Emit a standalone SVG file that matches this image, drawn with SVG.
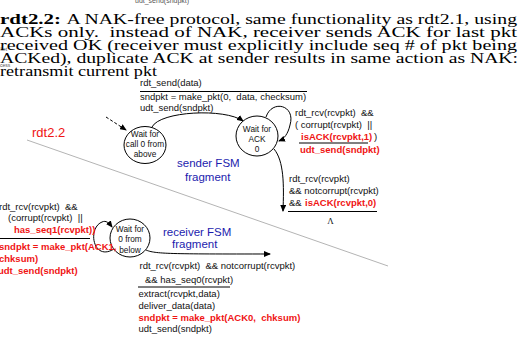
<svg xmlns="http://www.w3.org/2000/svg" width="523" height="339" viewBox="0 0 523 339" xml:space="preserve">
<style>
text{white-space:pre}
.t{font-family:"Liberation Serif","Times New Roman",serif;font-size:15px;fill:#000}
.s{font-family:"Liberation Sans",Arial,sans-serif;font-size:9.5px;fill:#111}
.r{font-family:"Liberation Sans",Arial,sans-serif;font-size:9.5px;fill:#f01414;font-weight:bold}
.n{font-family:"Liberation Sans",Arial,sans-serif;font-size:8.3px;fill:#111;text-anchor:middle}
.b{font-family:"Liberation Sans",Arial,sans-serif;font-size:11.5px;fill:#1c1cae}
.st{fill:#fff;stroke:#000;stroke-width:1}
.e{fill:none;stroke:#000;stroke-width:1}
.u{stroke:#000;stroke-width:1}
</style>
<defs>
<marker id="ah" markerUnits="userSpaceOnUse" markerWidth="7" markerHeight="6" refX="6" refY="3" orient="auto">
<path d="M0,0 L7,3 L0,6 z" fill="#000"/>
</marker>
</defs>
<rect width="523" height="339" fill="#fff"/>

<g id="artifacts">
<text x="135" y="2.5" font-family="Liberation Sans, Arial, sans-serif" font-size="7" fill="#555">udt_send(sndpkt)</text>
<text x="0.5" y="50.5" font-family="Liberation Sans, Arial, sans-serif" font-size="5" fill="#555">ket</text>
<text x="0" y="67" font-family="Liberation Sans, Arial, sans-serif" font-size="5" fill="#555">cess</text>
</g>

<g id="title">
<text class="t" x="0" y="24" font-weight="bold" textLength="61" lengthAdjust="spacingAndGlyphs">rdt2.2:</text>
<text class="t" x="66.5" y="24" textLength="450.5" lengthAdjust="spacingAndGlyphs">A NAK-free protocol, same functionality as rdt2.1, using</text>
<text class="t" x="0" y="37" textLength="517" lengthAdjust="spacingAndGlyphs">ACKs only.  instead of NAK, receiver sends ACK for last pkt</text>
<text class="t" x="0" y="50" textLength="517" lengthAdjust="spacingAndGlyphs">received OK (receiver must explicitly include seq # of pkt being</text>
<text class="t" x="0" y="63" textLength="518" lengthAdjust="spacingAndGlyphs">ACKed), duplicate ACK at sender results in same action as NAK:</text>
<text class="t" x="0" y="76" textLength="157" lengthAdjust="spacingAndGlyphs">retransmit current pkt</text>
</g>

<line id="divider" x1="27" y1="140" x2="388" y2="266" stroke="#b4b4b4" stroke-width="1"/>
<text id="label-rdt22" x="32" y="137" font-family="Liberation Sans, Arial, sans-serif" font-size="13" fill="#f01414">rdt2.2</text>

<g id="connectors">
<path class="e" d="M106,117 L126,130" stroke-dasharray="3,2" marker-end="url(#ah)"/>
<path class="e" d="M152,127 C160,111 225,108 243,121" marker-end="url(#ah)"/>
<path class="e" d="M266,117 C272,99 296,105 290,125 C288,134 284,139 279,141" marker-end="url(#ah)"/>
<path class="e" d="M274,149 C284,161 284,185 283,211" marker-end="url(#ah)"/>
<path class="e" d="M114,249 C93,262 87,228 102,222 C106,220 109,223 112,227" marker-end="url(#ah)"/>
<path class="e" d="M146,250 C155,254 170,254 270,254" marker-end="url(#ah)"/>
</g>

<g id="node-wait-call0">
<ellipse class="st" cx="145" cy="145" rx="21" ry="18.5"/>
<text class="n" x="145" y="137">Wait for</text>
<text class="n" x="145" y="147">call 0 from</text>
<text class="n" x="145" y="156.5">above</text>
</g>

<g id="node-wait-ack0">
<ellipse class="st" cx="257" cy="136" rx="21" ry="20"/>
<text class="n" x="257" y="132">Wait for</text>
<text class="n" x="257" y="142">ACK</text>
<text class="n" x="257" y="151.5">0</text>
</g>

<g id="node-wait-0-below">
<ellipse class="st" cx="130" cy="238" rx="20" ry="19"/>
<text class="n" x="130" y="231.5">Wait for</text>
<text class="n" x="130" y="242">0 from</text>
<text class="n" x="130" y="252.5">below</text>
</g>

<g id="label-send">
<text class="s" x="140" y="85.5">rdt_send(data)</text>
<line class="u" x1="140" y1="91.5" x2="307" y2="91.5"/>
<text class="s" x="140" y="99.5">sndpkt = make_pkt(0,  data, checksum)</text>
<text class="s" x="140" y="111">udt_send(sndpkt)</text>
</g>

<g id="label-ack-loop">
<text class="s" x="295" y="116">rdt_rcv(rcvpkt)  &amp;&amp;</text>
<text class="s" x="295" y="127.5">( corrupt(rcvpkt)  ||</text>
<text class="r" x="301" y="139.5">isACK(rcvpkt,1)</text>
<text class="s" x="374" y="139.5">)</text>
<line class="u" x1="299" y1="143" x2="368" y2="143"/>
<text class="r" x="300" y="153">udt_send(sndpkt)</text>
</g>

<g id="label-ack-ok">
<text class="s" x="289" y="181.5">rdt_rcv(rcvpkt)</text>
<text class="s" x="289" y="193.5">&amp;&amp; notcorrupt(rcvpkt)</text>
<text class="s" x="289" y="206">&amp;&amp;</text>
<text class="r" x="305" y="206">isACK(rcvpkt,0)</text>
<line class="u" x1="288" y1="211.5" x2="377" y2="211.5"/>
<text x="330.5" y="224" font-family="Liberation Serif, Times New Roman, serif" font-size="9" text-anchor="middle" fill="#111">Λ</text>
</g>

<g id="label-rcv-loop">
<text class="s" x="-1" y="209.5">rdt_rcv(rcvpkt)  &amp;&amp;</text>
<text class="s" x="8" y="221">(corrupt(rcvpkt)  ||</text>
<text class="r" x="14" y="232.5">has_seq1(rcvpkt))</text>
<line class="u" x1="0" y1="238.5" x2="90" y2="238.5"/>
<text class="r" x="-1" y="250">sndpkt = make_pkt(ACK1,</text>
<text class="r" x="-1" y="262">chksum)</text>
<text class="r" x="-2" y="273.5">udt_send(sndpkt)</text>
</g>

<g id="label-rcv-ok">
<text class="s" x="139.5" y="268.5">rdt_rcv(rcvpkt)  &amp;&amp; notcorrupt(rcvpkt)</text>
<text class="s" x="145" y="282.5">&amp;&amp; has_seq0(rcvpkt)</text>
<line class="u" x1="138" y1="287" x2="230" y2="287"/>
<text class="s" x="138.5" y="297">extract(rcvpkt,data)</text>
<text class="s" x="138.5" y="308.5">deliver_data(data)</text>
<text class="r" x="138.5" y="320.5">sndpkt = make_pkt(ACK0,  chksum)</text>
<text class="s" x="138.5" y="332">udt_send(sndpkt)</text>
</g>

<g id="label-sender-fsm">
<text class="b" x="177" y="167">sender FSM</text>
<text class="b" x="185" y="180.5">fragment</text>
</g>
<g id="label-receiver-fsm">
<text class="b" x="163" y="235.5">receiver FSM</text>
<text class="b" x="172" y="248">fragment</text>
</g>
</svg>
